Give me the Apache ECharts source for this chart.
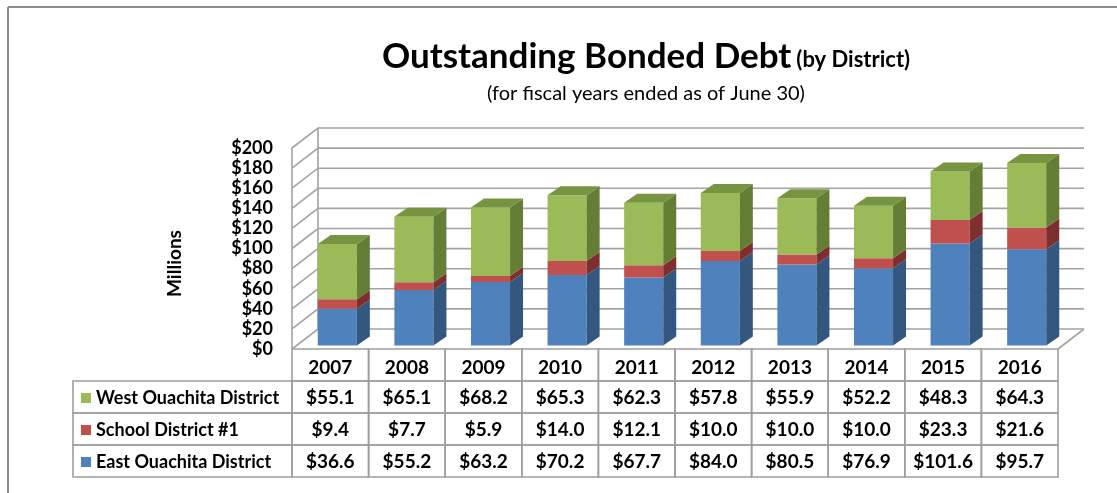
<!DOCTYPE html>
<html>
<head>
<meta charset="utf-8">
<script src="https://cdn.jsdelivr.net/npm/echarts@6/dist/echarts.min.js"></script>
<style>
html,body{margin:0;padding:0;background:#fff;}
#c{width:1117px;height:493px;}
</style>
</head>
<body>
<div id="c"></div>
<script>
const categories = ['2007','2008','2009','2010','2011','2012','2013','2014','2015','2016'];
const westValues = [55.1,65.1,68.2,65.3,62.3,57.8,55.9,52.2,48.3,64.3];
const schoolValues = [9.4,7.7,5.9,14.0,12.1,10.0,10.0,10.0,23.3,21.6];
const eastValues = [36.6,55.2,63.2,70.2,67.7,84.0,80.5,76.9,101.6,95.7];
const yTicks = [0,20,40,60,80,100,120,140,160,180,200];
const seriesNames = ['West Ouachita District','School District #1','East Ouachita District'];

const FONT = 'Lato';
const WX = 26, WY = 20;        // back wall offset
const SX = 7, SY = -3.5;       // bar front plane offset
const DX = 13, DY = 9;         // bar depth
const ROW_H = 32;
const LABEL_W = 219;
const GRID_COLOR = '#a3a3a3';
const TABLE_COLOR = '#9e9e9e';

const colors = {
  east:   {front:'#4F81BD', side:'#34577f', top:'#3d6595'},
  school: {front:'#C0504D', side:'#7e2f2d', top:'#98403d'},
  west:   {front:'#9BBB59', side:'#647e35', top:'#779440'}
};

const eastBase = eastValues.map(() => 0);
const schoolBase = eastValues.slice();
const westBase = eastValues.map((v, i) => v + schoolValues[i]);

function barRenderer(col, drawTop) {
  return function (params, api) {
    const i = api.value(0), base = api.value(1), val = api.value(2);
    const bw = api.size([1, 0])[0];
    const w = bw * 0.51;
    const pb = api.coord([i, base]);
    const pt = api.coord([i, base + val]);
    const x0 = pb[0] - w / 2 + SX, x1 = x0 + w;
    const yB = pb[1] + SY, yT = pt[1] + SY;
    const children = [
      {type:'rect', shape:{x:x0, y:yT, width:w, height:yB - yT}, style:{fill:col.front}},
      {type:'polygon', shape:{points:[[x1,yB],[x1,yT],[x1+DX,yT-DY],[x1+DX,yB-DY]]}, style:{fill:col.side}}
    ];
    if (drawTop) {
      children.push({type:'polygon', shape:{points:[[x0,yT],[x1,yT],[x1+DX,yT-DY],[x0+DX,yT-DY]]}, style:{fill:col.top}});
    }
    return {type:'group', children};
  };
}

function wallRenderer(params, api) {
  const v = api.value(0);
  const n = categories.length;
  const bw = api.size([1, 0])[0];
  const p = api.coord([0, v]);
  const left = p[0] - bw / 2;
  const right = api.coord([n - 1, v])[0] + bw / 2;
  const y = p[1];
  const st = {stroke: GRID_COLOR, lineWidth: 1.6, fill: null};
  const children = [
    {type:'polyline', shape:{points:[[left,y],[left+WX,y-WY],[right+WX,y-WY]]}, style:st}
  ];
  if (params.dataIndex === 0) {
    const yMax = api.coord([0, yTicks[yTicks.length - 1]])[1];
    children.push({type:'line', shape:{x1:right, y1:y, x2:right+WX, y2:y-WY}, style:st});
    children.push({type:'line', shape:{x1:left, y1:y, x2:left, y2:yMax}, style:st});
    children.push({type:'line', shape:{x1:left+WX, y1:y-WY, x2:left+WX, y2:yMax-WY}, style:st});
  }
  return {type:'group', children};
}

const rowValues = [westValues, schoolValues, eastValues];
const VAL_TXT = {fontFamily: FONT, fontWeight: 'bold', fontSize: 19, fill: '#000'};
const LBL_TXT = {fontFamily: FONT, fontWeight: 'bold', fontSize: 18, fill: '#000'};

function tableRenderer(params, api) {
  const i = api.value(0);
  const bw = api.size([1, 0])[0];
  const p = api.coord([i, 0]);
  const left = p[0] - bw / 2;
  const y0 = p[1];
  const st = {stroke: TABLE_COLOR, lineWidth: 1.6, fill: null};
  const children = [];
  for (let r = 0; r < 4; r++) {
    children.push({type:'rect', shape:{x:left, y:y0 + r * ROW_H, width:bw, height:ROW_H}, style:st});
  }
  for (let r = 0; r < 3; r++) {
    children.push({type:'text', style:Object.assign({
      text: '$' + rowValues[r][i].toFixed(1),
      x: p[0], y: y0 + (r + 1.5) * ROW_H + 1,
      align:'center', verticalAlign:'middle'}, VAL_TXT)});
  }
  return {type:'group', children};
}

const legendColors = [colors.west.front, colors.school.front, colors.east.front];
function labelRenderer(params, api) {
  const bw = api.size([1, 0])[0];
  const p = api.coord([0, 0]);
  const right = p[0] - bw / 2;
  const left = right - LABEL_W;
  const y0 = p[1];
  const st = {stroke: TABLE_COLOR, lineWidth: 1.6, fill: null};
  const children = [];
  for (let r = 0; r < 3; r++) {
    const yt = y0 + (r + 1) * ROW_H;
    children.push({type:'rect', shape:{x:left, y:yt, width:LABEL_W, height:ROW_H}, style:st});
    children.push({type:'rect', shape:{x:left + 8, y:yt + ROW_H / 2 - 4, width:10, height:10}, style:{fill:legendColors[r]}});
    children.push({type:'text', style:Object.assign({
      text: seriesNames[r], x:left + 23, y: yt + ROW_H / 2 + 1,
      align:'left', verticalAlign:'middle'}, LBL_TXT)});
  }
  return {type:'group', children};
}

const chart = echarts.init(document.getElementById('c'), null, {renderer:'canvas'});
chart.setOption({
  animation: false,
  backgroundColor: '#fff',
  title: [{
    text: '{a|Outstanding Bonded Debt} {b|(by District)}',
    left: 641, top: 34, textAlign: 'center',
    textStyle: {rich: {
      a: {fontFamily: FONT, fontWeight: 'bold', fontSize: 35, color: '#000', verticalAlign: 'bottom'},
      b: {fontFamily: FONT, fontWeight: 'bold', fontSize: 22, color: '#000', verticalAlign: 'bottom', padding: [0, 0, 3, 0]}
    }}
  }, {
    text: '(for fiscal years ended as of June 30)',
    left: 641, top: 79, textAlign: 'center',
    textStyle: {fontFamily: FONT, fontWeight: 'normal', fontSize: 20, color: '#000'}
  }],
  graphic: [
    {type:'line', shape:{x1:8, y1:7, x2:1117, y2:7}, style:{stroke:'#8c8c8c', lineWidth:2}},
    {type:'line', shape:{x1:8, y1:7, x2:8, y2:493}, style:{stroke:'#8c8c8c', lineWidth:2}}
  ],
  grid: {left: 292, right: 59, top: 148, bottom: 144},
  xAxis: {
    type: 'category', data: categories,
    axisLine: {show:false}, axisTick: {show:false}, splitLine: {show:false},
    axisLabel: {margin: 9, fontFamily: FONT, fontWeight: 'bold', fontSize: 19, color: '#000'}
  },
  yAxis: {
    type: 'value', min: 0, max: 200, interval: 20,
    name: 'Millions', nameLocation: 'middle', nameRotate: 90, nameGap: 108,
    nameTextStyle: {fontFamily: FONT, fontWeight: 'bold', fontSize: 19, color: '#000', padding: [0, 30, 0, 0]},
    axisLine: {show:false}, axisTick: {show:false}, splitLine: {show:false},
    axisLabel: {margin: 19, fontFamily: FONT, fontWeight: 'bold', fontSize: 18, color: '#000',
      formatter: v => '$' + v}
  },
  series: [
    {type:'custom', name:'wall', renderItem: wallRenderer, data: yTicks.map(v => [v]), silent:true, z:1},
    {type:'custom', name: seriesNames[2], renderItem: barRenderer(colors.east, false),
      data: eastValues.map((v, i) => [i, eastBase[i], v]), z:2},
    {type:'custom', name: seriesNames[1], renderItem: barRenderer(colors.school, false),
      data: schoolValues.map((v, i) => [i, schoolBase[i], v]), z:2},
    {type:'custom', name: seriesNames[0], renderItem: barRenderer(colors.west, true),
      data: westValues.map((v, i) => [i, westBase[i], v]), z:2},
    {type:'custom', name:'table', renderItem: tableRenderer, data: categories.map((c, i) => [i]), silent:true, z:3},
    {type:'custom', name:'labels', renderItem: labelRenderer, data: [[0]], silent:true, z:3}
  ]
});
</script>
</body>
</html>
